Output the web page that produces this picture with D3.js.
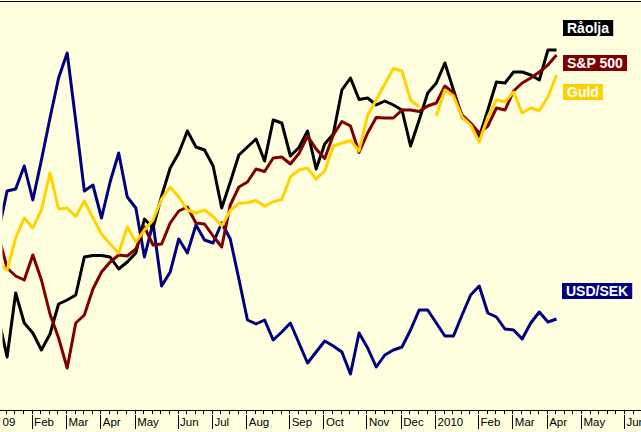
<!DOCTYPE html>
<html><head><meta charset="utf-8">
<script src="https://cdn.jsdelivr.net/npm/d3@7"></script>
<style>html,body{margin:0;padding:0;background:#FFFFE0;} svg{display:block;}</style>
</head><body>
<svg id="c" width="641" height="432"></svg>
<script>
// weekly observations, first week starting 2009-01-11
const startDate = new Date(2009, 0, 11);
const weekCount = 66;

// values as relative index levels (higher = up)
const usdsek = [178,219,221,244,210,250,292,332,357,289,219,225,192,228,257,213,202,153,187,124,138,171,157,185,170,167,187,171,131,90,86,90,70,78,87,67,47,58,69,64,58,36,77,62,43,55,60,63,80,100,100,87,74,74,95,115,124,97,93,81,80,71,87,98,88,91];
const raolja = [92,53,117,87,77,60,76,106,110,115,153,154.5,154.5,153,141,148,157,191,182,214,242,257,279,263,260,244,202,228,255,263,271,249,290,287,254,262.5,279,241,266,276,320,332,310.5,312,305,309,305,300,264,290,317,327,347,320,293,286,273,300,328,327,338,338,335,330,360,360];
const sp500 = [175,142,134,130,155,130,96,72,42,87,95,121,138,148,155,154,161,183,165,166,187,199,203,187,186,174,163,205,223,228,241,238.5,252,253,246,256.5,274,261,251.5,275,288.5,284,257.5,277,292.5,292,292,300,300,298.5,304,307,324,317,295,287,277,284,302,300,319,327,332,338,345,355];
const guld = [146,140,172,192,182,200,237,201,202,193.5,209,192,176,166,157,183,168,180,190,211,223,213,200,197,200,193.5,184,199.5,206.7,207.3,209.5,203.7,208.3,210.5,233,240,242,231,239,264,267,269.5,259,295,310,326,341.5,339,310,303,null,294,320,314,293,285,268,293,310,308.3,318,297,302,299.5,313,335];

const seriesNames = ["USD/SEK", "Råolja", "S&P 500", "Guld"];
const seriesColors = ["#000080", "#000000", "#800000", "#FFD200"];
const monthNames = ["Jan","Feb","Mar","Apr","May","Jun","Jul","Aug","Sep","Oct","Nov","Dec"];

const dates = d3.range(weekCount).map(i => d3.timeDay.offset(startDate, 7 * i));

const svg = d3.select("#c");
const W = 641, H = 432;
svg.append("rect").attr("width", W).attr("height", H).attr("fill", "#FFFFE0");

const x = d3.scaleTime().domain([dates[0], dates[weekCount - 1]]).range([-1.5, 556.5]);
const y = d3.scaleLinear().domain([0, 410]).range([410, 0]);

// top frame line
svg.append("line").attr("x1", 0).attr("x2", W).attr("y1", 1.5).attr("y2", 1.5)
  .attr("stroke", "#000").attr("stroke-width", 1);

svg.append("clipPath").attr("id", "plot").append("rect")
  .attr("x", 2.5).attr("y", 2).attr("width", W - 2.5).attr("height", 407);

const line = d3.line()
  .defined(d => d != null)
  .x((d, i) => x(dates[i]))
  .y(d => y(d));

const allSeries = [usdsek, raolja, sp500, guld];
const g = svg.append("g").attr("clip-path", "url(#plot)");
allSeries.forEach((s, k) => {
  g.append("path").datum(s).attr("d", line)
    .attr("fill", "none").attr("stroke", seriesColors[k])
    .attr("stroke-width", 3).attr("stroke-linejoin", "round").attr("stroke-linecap", "butt");
});

// axis
const axisY = 410.5;
const weekTicks = d3.timeSaturday.range(new Date(2008, 11, 1), new Date(2010, 7, 1))
  .filter(d => x(d) >= -20 && x(d) <= W + 20);
const monthTicks = d3.timeMonth.range(new Date(2009, 0, 1), new Date(2010, 6, 1))
  .map(m => d3.timeSaturday.ceil(m));

const minorAxis = d3.axisBottom(x).tickValues(weekTicks).tickSize(3).tickFormat("").tickSizeOuter(0);
const majorAxis = d3.axisBottom(x).tickValues(monthTicks).tickSize(18).tickSizeOuter(0)
  .tickFormat(d => {
    const m = d.getMonth();
    if (m === 0) return d.getFullYear() === 2009 ? "09" : String(d.getFullYear());
    return monthNames[m];
  });

const gMin = svg.append("g").attr("transform", `translate(0,${axisY})`).call(minorAxis);
const gMaj = svg.append("g").attr("transform", `translate(0,${axisY})`).call(majorAxis);
[gMin, gMaj].forEach(a => {
  a.select(".domain").remove();
  a.selectAll("line").attr("stroke", "#000").attr("shape-rendering", "crispEdges");
});
gMaj.selectAll(".tick line").attr("y1", 4);
gMaj.selectAll(".tick text")
  .attr("text-anchor", "start")
  .attr("x", function(d) { const px = x(d); return px < 0 ? -px + 2 : 2; })
  .attr("y", 7).attr("dy", "0.71em")
  .attr("fill", "#000")
  .style("font-family", "'Liberation Sans', Arial, sans-serif")
  .style("font-size", "11.5px");

svg.append("line").attr("x1", 0).attr("x2", W).attr("y1", axisY).attr("y2", axisY)
  .attr("stroke", "#000").attr("shape-rendering", "crispEdges");

// labels
const labelPos = [
  {name: seriesNames[1], color: seriesColors[1], x: 563, y: 20},
  {name: seriesNames[2], color: seriesColors[2], x: 563, y: 55},
  {name: seriesNames[3], color: "#FFD000", x: 563, y: 84},
  {name: seriesNames[0], color: seriesColors[0], x: 562, y: 283}
];
labelPos.forEach(l => {
  const gl = svg.append("g");
  const t = gl.append("text").attr("x", l.x + 4).attr("y", l.y + 13)
    .text(l.name).attr("fill", "#fff")
    .style("font-family", "'Liberation Sans', Arial, sans-serif")
    .style("font-weight", "bold").style("font-size", "14px");
  const bb = t.node().getBBox();
  gl.insert("rect", "text").attr("x", l.x).attr("y", l.y)
    .attr("width", bb.width + 8).attr("height", 16).attr("fill", l.color);
});
</script>
</body></html>
